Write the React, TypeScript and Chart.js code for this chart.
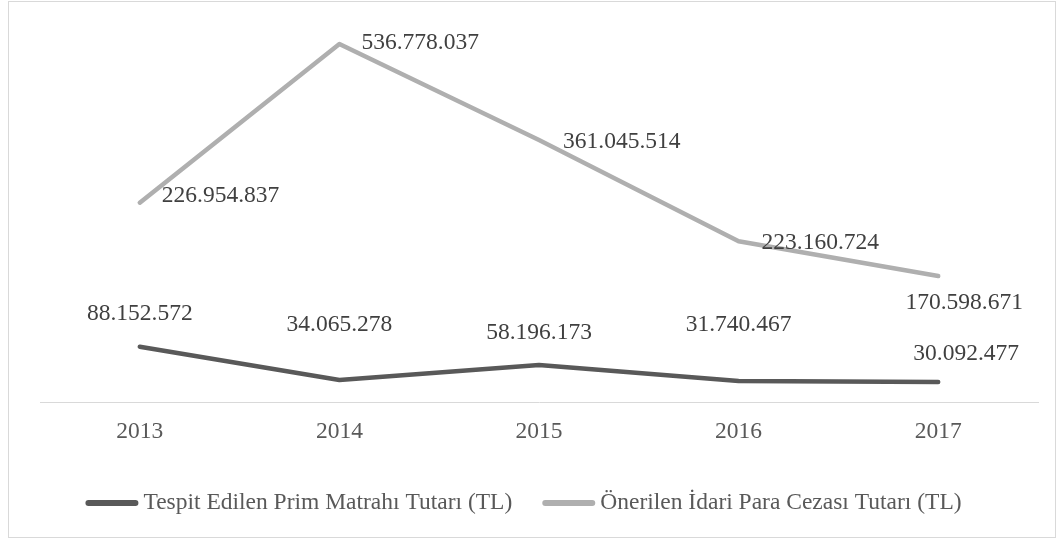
import React, { useEffect, useRef } from 'react';
import { Chart, registerables } from 'chart.js';

Chart.register(...registerables);

// ---- data ----
const categories = ['2013', '2014', '2015', '2016', '2017'];
const primLabel = 'Tespit Edilen Prim Matrahı Tutarı (TL)';
const cezaLabel = 'Önerilen İdari Para Cezası Tutarı (TL)';
// plotted values
const primValues = [83.0e6, 33.0e6, 55.5e6, 31.5e6, 30.0e6];
const cezaValues = [299e6, 537e6, 393e6, 241e6, 189e6];
// data label texts as printed on the chart
const primTexts = ['88.152.572', '34.065.278', '58.196.173', '31.740.467', '30.092.477'];
const cezaTexts = ['226.954.837', '536.778.037', '361.045.514', '223.160.724', '170.598.671'];

// ---- styling ----
const FONT = '"Liberation Serif", "Times New Roman", serif';
const FONT_SIZE = 23.5;
const DARK = '#595959';
const LIGHT = '#afafaf';

type Place = { dx: number; dy: number; align: CanvasTextAlign };
const labelPlacement: Place[][] = [
  [
    { dx: 0, dy: -33, align: 'center' },
    { dx: 0, dy: -55, align: 'center' },
    { dx: 0, dy: -32, align: 'center' },
    { dx: 0, dy: -56, align: 'center' },
    { dx: 28, dy: -28, align: 'center' },
  ],
  [
    { dx: 22, dy: -7, align: 'left' },
    { dx: 22, dy: -1, align: 'left' },
    { dx: 24, dy: 2, align: 'left' },
    { dx: 23, dy: 1, align: 'left' },
    { dx: 26, dy: 27, align: 'center' },
  ],
];

const dataLabelPlugin = {
  id: 'dataLabelsCustom',
  afterDatasetsDraw(chart: any) {
    const ctx = chart.ctx;
    ctx.save();
    ctx.font = `${FONT_SIZE}px ${FONT}`;
    ctx.fillStyle = '#404040';
    ctx.textBaseline = 'middle';
    chart.data.datasets.forEach((ds: any, i: number) => {
      const meta = chart.getDatasetMeta(i);
      meta.data.forEach((pt: any, j: number) => {
        const p = labelPlacement[i][j];
        ctx.textAlign = p.align;
        ctx.fillText(ds.texts[j], pt.x + p.dx, pt.y + p.dy);
      });
    });
    ctx.restore();
  },
};

const legendPlugin = {
  id: 'bottomLegendCustom',
  afterDraw(chart: any) {
    const ctx = chart.ctx;
    const area = chart.chartArea;
    ctx.save();
    ctx.font = `${FONT_SIZE}px ${FONT}`;
    const lineLen = 47;
    const gapText = 8;
    const gapItem = 33;
    const items = chart.data.datasets.map((ds: any) => ({
      text: ds.label,
      color: ds.borderColor,
      w: ctx.measureText(ds.label).width,
    }));
    let total = 0;
    items.forEach((it: any, k: number) => {
      total += lineLen + gapText + it.w + (k > 0 ? gapItem : 0);
    });
    const cx = (area.left + area.right) / 2 - 14;
    const y = area.bottom + 101;
    let x = cx - total / 2;
    items.forEach((it: any) => {
      ctx.beginPath();
      ctx.strokeStyle = it.color;
      ctx.lineWidth = 6;
      ctx.lineCap = 'round';
      ctx.moveTo(x, y);
      ctx.lineTo(x + lineLen, y);
      ctx.stroke();
      ctx.fillStyle = DARK;
      ctx.textAlign = 'left';
      ctx.textBaseline = 'middle';
      ctx.fillText(it.text, x + lineLen + gapText, y);
      x += lineLen + gapText + it.w + gapItem;
    });
    ctx.restore();
  },
};

export default function App() {
  const canvasRef = useRef<HTMLCanvasElement | null>(null);

  useEffect(() => {
    if (!canvasRef.current) return;
    Chart.defaults.font.family = FONT;
    const chart = new Chart(canvasRef.current, {
      type: 'line',
      data: {
        labels: categories,
        datasets: [
          {
            label: primLabel,
            data: primValues,
            texts: primTexts,
            borderColor: DARK,
            backgroundColor: DARK,
            borderWidth: 4.5,
            borderCapStyle: 'round',
            borderJoinStyle: 'round',
            pointRadius: 0,
            tension: 0,
          } as any,
          {
            label: cezaLabel,
            data: cezaValues,
            texts: cezaTexts,
            borderColor: LIGHT,
            backgroundColor: LIGHT,
            borderWidth: 4.5,
            borderCapStyle: 'round',
            borderJoinStyle: 'round',
            pointRadius: 0,
            tension: 0,
          } as any,
        ],
      },
      options: {
        animation: false,
        responsive: true,
        maintainAspectRatio: false,
        layout: { padding: { left: 31, right: 17, top: 20, bottom: 0 } },
        plugins: {
          legend: { display: false },
          tooltip: { enabled: false },
        },
        scales: {
          x: {
            offset: true,
            grid: { display: false, drawTicks: false },
            border: { display: true, color: '#d9d9d9', width: 1 },
            ticks: {
              color: DARK,
              font: { size: FONT_SIZE, family: FONT },
              padding: 16,
            },
            afterFit(scale: any) {
              scale.height = 135;
            },
          },
          y: {
            display: false,
            min: 0,
            max: 570e6,
          },
        },
      },
      plugins: [dataLabelPlugin, legendPlugin],
    });
    return () => chart.destroy();
  }, []);

  return (
    <div
      style={{
        position: 'absolute',
        left: 8,
        top: 1,
        width: 1048,
        height: 537,
        border: '1px solid #d9d9d9',
        boxSizing: 'border-box',
        background: '#fff',
      }}
    >
      <div style={{ position: 'relative', width: '100%', height: '100%' }}>
        <canvas ref={canvasRef} />
      </div>
    </div>
  );
}
